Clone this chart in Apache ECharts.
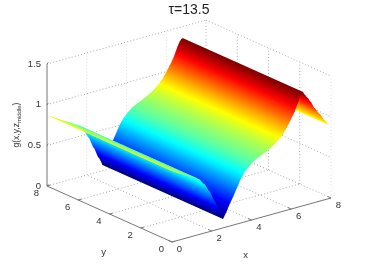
<!DOCTYPE html>
<html>
<head>
<meta charset="utf-8">
<style>html,body{margin:0;padding:0;background:#fff}#c{width:366px;height:271px}</style>
<script src="https://cdn.jsdelivr.net/npm/echarts@6/dist/echarts.min.js"></script>
</head>
<body>
<div id="c"></div>
<script>
// --- values ---
const xGrid = [0,.25,.5,.75,1,1.25,1.5,1.75,2,2.25,2.5,2.7,2.85,3,3.2,3.4,3.6,3.8,4,4.25,4.5,4.85,5.2,5.5,5.7,5.9,6.1,6.3,6.5,6.6,6.7,6.8,6.95,7.1,7.3,7.56,7.8,8];
const gValues = [.88,.84,.80,.765,.73,.69,.645,.57,.47,.33,.19,.095,.16,.24,.33,.43,.53,.60,.65,.70,.73,.77,.82,.88,.93,1.0,1.08,1.17,1.29,1.34,1.37,1.33,1.28,1.22,1.13,1.04,.95,.885];
const yStart = 0.15, yEnd = 7.9;
const xTicks = [0,2,4,6,8];
const yTicks = [0,2,4,6,8];
const zTicks = [0,0.5,1,1.5];
const zTickLabels = ['0','0.5','1','1.5'];
const titleText = 'τ=13.5';

// --- view of the 3D box, in plot units ---
function project(x, y, z) {
  return [172 + 19.875 * x - 15.625 * y, 242 - 5.5 * x - 7 * y - 81.3 * z];
}
function jet(t) {
  t = Math.max(0, Math.min(1, t));
  const c = v => Math.round(255 * Math.max(0, Math.min(1, v)));
  const r = 1.5 - Math.abs(4 * t - 3), g = 1.5 - Math.abs(4 * t - 2), b = 1.5 - Math.abs(4 * t - 1);
  return 'rgb(' + c(r) + ',' + c(g) + ',' + c(b) + ')';
}
const zLo = Math.min.apply(null, gValues), zHi = Math.max.apply(null, gValues);
const colorOf = z => jet((z - zLo) / (zHi - zLo));

// surface strips, far to near
const strips = [];
for (let i = xGrid.length - 2; i >= 0; i--) strips.push([xGrid[i], gValues[i], xGrid[i + 1], gValues[i + 1]]);

// box: [x1,y1,z1,x2,y2,z2,kind]  kind 0 solid axis, 1 dotted, 2 faint dotted
const boxLines = [];
const add = (a, b, k) => boxLines.push(a.concat(b, [k]));
xTicks.slice(1, -1).forEach(x => add([x, 0, 0], [x, 8, 0], 1));
yTicks.slice(1, -1).forEach(y => add([0, y, 0], [8, y, 0], 1));
add([0, 8, 0], [8, 8, 0], 1);
add([8, 0, 0], [8, 8, 0], 1);
zTicks.slice(1).forEach(z => { add([0, 8, z], [8, 8, z], 1); add([8, 8, z], [8, 0, z], 1); });
xTicks.slice(1, -1).forEach(x => add([x, 8, 0], [x, 8, 1.5], 2));
add([8, 8, 0], [8, 8, 1.5], 1);
yTicks.slice(1, -1).forEach(y => add([8, y, 0], [8, y, 1.5], 1));
add([8, 0, 0], [8, 0, 1.5], 2);
add([0, 8, 0], [0, 8, 1.5], 0);
add([0, 8, 0], [0, 0, 0], 0);
add([0, 0, 0], [8, 0, 0], 0);
yTicks.forEach(y => add([0, y, 0], [0.16, y, 0], 0));
xTicks.forEach(x => add([x, 0, 0], [x, 0.22, 0], 0));
zTicks.forEach(z => add([0, 8, z], [0.16, 8.12, z], 0));

// labels: [x,y,z,text,dx,dy,align]
const axisLabels = [];
xTicks.forEach(x => axisLabels.push([x, 0, 0, String(x), 7.5, 7.5, 'center']));
yTicks.forEach(y => axisLabels.push([0, y, 0, String(y), -10.5, 7, 'center']));
zTicks.forEach((z, i) => axisLabels.push([0, 8, z, zTickLabels[i], -6, 0, 'right']));
axisLabels.push([4, 0, 0, 'x', -6, 35, 'center']);
axisLabels.push([0, 4, 0, 'y', -6, 38, 'center']);

const FONT = '"Liberation Sans", Arial, sans-serif';
const option = {
  animation: false,
  backgroundColor: '#fff',
  title: {
    text: titleText, left: 184, top: -2, textAlign: 'center',
    textStyle: { fontFamily: FONT, fontSize: 14, fontWeight: 'normal', color: '#222' }
  },
  grid: { left: 0, right: 0, top: 0, bottom: 0 },
  xAxis: { type: 'value', min: 0, max: 366, show: false },
  yAxis: { type: 'value', min: 0, max: 271, inverse: true, show: false },
  series: [
    {
      type: 'custom', coordinateSystem: 'cartesian2d', silent: true, clip: false, z: 1,
      data: boxLines,
      renderItem(params, api) {
        const p1 = api.coord(project(api.value(0), api.value(1), api.value(2)));
        const p2 = api.coord(project(api.value(3), api.value(4), api.value(5)));
        const k = api.value(6);
        return {
          type: 'line', shape: { x1: p1[0], y1: p1[1], x2: p2[0], y2: p2[1] },
          style: k === 0 ? { stroke: '#777', lineWidth: 1 }
            : { stroke: k === 1 ? '#aaa' : '#ddd', lineWidth: 1, lineDash: [1, 2.2] }
        };
      }
    },
    {
      type: 'custom', coordinateSystem: 'cartesian2d', silent: true, clip: false, z: 2,
      data: strips,
      renderItem(params, api) {
        const x1 = api.value(0), z1 = api.value(1), x2 = api.value(2), z2 = api.value(3);
        const a = api.coord(project(x1, yStart, z1));
        const b = api.coord(project(x2, yStart, z2));
        const c = api.coord(project(x2, yEnd, z2));
        const d = api.coord(project(x1, yEnd, z1));
        let ux = d[0] - a[0], uy = d[1] - a[1];
        const len = Math.hypot(ux, uy); ux /= len; uy /= len;
        const nx = -uy, ny = ux;
        const m = (b[0] - a[0]) * nx + (b[1] - a[1]) * ny;
        const stops = [0, .25, .5, .75, 1].map(o => ({ offset: o, color: colorOf(z1 + (z2 - z1) * o) }));
        const g = new echarts.graphic.LinearGradient(a[0], a[1], a[0] + nx * m, a[1] + ny * m, stops, true);
        // the far strip runs a little under its nearer neighbour, which hides the seam
        const s = (m >= 0 ? -1 : 1) * 0.7;
        const a2 = [a[0] + nx * s, a[1] + ny * s], d2 = [d[0] + nx * s, d[1] + ny * s];
        return {
          type: 'polygon', shape: { points: [a2, b, c, d2] },
          style: { fill: g }
        };
      }
    },
    {
      type: 'custom', coordinateSystem: 'cartesian2d', silent: true, clip: false, z: 3,
      data: axisLabels.map(l => ({ value: l })),
      renderItem(params, api) {
        const l = axisLabels[params.dataIndex];
        const p = api.coord(project(l[0], l[1], l[2]));
        return {
          type: 'text', x: p[0] + l[4], y: p[1] + l[5],
          style: { text: l[3], fontFamily: FONT, fontSize: 9.5, fill: '#333', align: l[6], verticalAlign: 'middle' }
        };
      }
    },
    {
      type: 'custom', coordinateSystem: 'cartesian2d', silent: true, clip: false, z: 3,
      data: [[17, 125]],
      renderItem(params, api) {
        const p = api.coord([api.value(0), api.value(1)]);
        return {
          type: 'text', x: p[0], y: p[1], rotation: Math.PI / 2,
          style: {
            text: 'g(x,y,z{s|middle})', fontFamily: FONT, fontSize: 8.5, fill: '#333', align: 'center', verticalAlign: 'middle',
            rich: { s: { fontFamily: FONT, fontSize: 6, fill: '#333', padding: [4, 0, 0, 0] } }
          }
        };
      }
    }
  ]
};
echarts.init(document.getElementById('c')).setOption(option);
</script>
</body>
</html>
